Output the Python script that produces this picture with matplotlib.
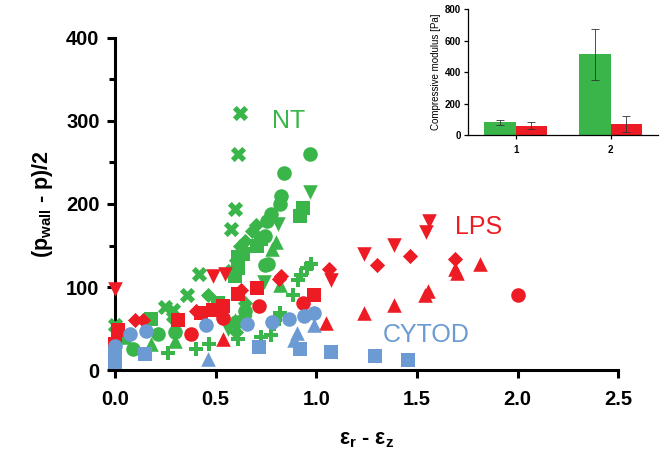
import matplotlib.pyplot as plt

plt.rcParams['font.family'] = ['Liberation Sans', 'DejaVu Sans']
plt.rcParams['mathtext.fontset'] = 'custom'
plt.rcParams['mathtext.rm'] = 'Liberation Sans:bold'
plt.rcParams['mathtext.it'] = 'Liberation Sans:bold'
plt.rcParams['mathtext.bf'] = 'Liberation Sans:bold'
plt.rcParams['mathtext.default'] = 'bf'

GREEN = '#3AB54A'
RED = '#ED1C24'
BLUE = '#6B9BD2'

# NT (green) points, grouped by marker: (strain diff, stress)
nt_x = [(0.62, 310), (0.61, 260), (0.595, 194), (0.578, 170), (0.42, 116), (0.36, 90),
        (0.29, 73), (0.25, 76), (0.0, 54), (0.58, 119), (0.6, 128)]
nt_o = [(0.967, 260), (0.84, 237), (0.826, 210), (0.818, 200), (0.777, 188), (0.744, 162),
        (0.755, 179), (0.76, 128), (0.745, 127), (0.09, 25), (0.215, 44), (0.3, 46),
        (0.645, 71), (0.6, 58)]
nt_v = [(0.97, 214), (0.81, 176), (0.74, 106), (0.645, 58), (0.56, 50)]
nt_s = [(0.934, 195), (0.92, 185), (0.724, 158), (0.636, 140), (0.705, 149), (0.614, 136),
        (0.595, 113), (0.61, 123), (0.18, 62), (0.51, 81)]
nt_d = [(0.70, 175), (0.68, 168), (0.645, 156), (0.62, 149), (0.463, 90), (0.29, 62),
        (0.645, 81), (0.603, 46)]
nt_t = [(0.80, 154), (0.78, 146), (0.82, 103), (0.18, 31), (0.3, 35), (0.595, 60), (0.05, 40)]
nt_p = [(0.975, 128), (0.926, 114), (0.954, 123), (0.912, 108), (0.887, 90), (0.818, 67),
        (0.79, 56), (0.777, 42), (0.727, 40), (0.61, 37), (0.47, 31), (0.405, 25),
        (0.264, 21), (0.82, 69), (0.796, 62)]

# LPS (red)
lps_v = [(0.0, 98), (0.488, 113), (0.545, 116), (1.074, 108), (1.235, 140), (1.384, 151),
         (1.56, 179), (1.545, 166)]
lps_d = [(1.066, 122), (0.826, 113), (0.813, 110), (0.628, 96), (1.30, 126), (1.465, 137),
         (1.689, 134), (0.405, 71), (0.1, 60), (0.14, 60)]
lps_t = [(1.05, 57), (1.235, 69), (1.384, 79), (1.54, 90), (1.553, 95), (1.689, 122),
         (1.70, 117), (1.813, 128), (0.537, 37)]
lps_o = [(2.0, 90), (0.934, 81), (0.714, 77), (0.38, 44), (0.537, 63)]
lps_s = [(0.99, 90), (0.705, 99), (0.61, 92), (0.537, 77), (0.488, 73), (0.43, 69),
         (0.314, 60), (0.017, 48), (0.0, 31)]

# CYTOD (blue)
cyt_o = [(0.0, 29), (0.074, 44), (0.157, 47), (0.455, 54), (0.656, 55), (0.78, 58),
         (0.863, 62), (0.937, 65), (0.987, 69)]
cyt_s = [(0.0, 10), (0.0, 20), (0.149, 19), (0.714, 28), (0.92, 26), (1.073, 22),
         (1.29, 17), (1.457, 12)]
cyt_t = [(0.463, 13), (0.89, 36), (0.904, 45), (0.987, 54)]

# inset bar data
inset_groups = ['1', '2']
nt_modulus = [80, 515]
nt_modulus_err = [18, 162]
lps_modulus = [58, 72]
lps_modulus_err = [22, 50]

fig = plt.figure(figsize=(6.64, 4.61), dpi=100)
ax = fig.add_axes([0.173, 0.197, 0.758, 0.721])

series = [
    (nt_x, 'X', GREEN, 120), (nt_o, 'o', GREEN, 110), (nt_v, 'v', GREEN, 110),
    (nt_s, 's', GREEN, 100), (nt_d, 'D', GREEN, 60), (nt_t, '^', GREEN, 110),
    (nt_p, 'P', GREEN, 110),
    (lps_v, 'v', RED, 110), (lps_d, 'D', RED, 60), (lps_t, '^', RED, 110),
    (lps_o, 'o', RED, 110), (lps_s, 's', RED, 100),
    (cyt_o, 'o', BLUE, 110), (cyt_s, 's', BLUE, 100), (cyt_t, '^', BLUE, 110),
]
for pts, marker, color, size in series:
    xs = [p[0] for p in pts]
    ys = [p[1] for p in pts]
    ax.scatter(xs, ys, marker=marker, s=size, color=color, linewidths=0, clip_on=False, zorder=3)

ax.set_xlim(0, 2.5)
ax.set_ylim(0, 400)
ax.set_xticks([0, 0.5, 1.0, 1.5, 2.0, 2.5])
ax.set_xticklabels(['0.0', '0.5', '1.0', '1.5', '2.0', '2.5'])
ax.set_yticks([0, 100, 200, 300, 400])
ax.set_yticks([50, 150, 250, 350], minor=True)
for s in ['top', 'right']:
    ax.spines[s].set_visible(False)
for s in ['left', 'bottom']:
    ax.spines[s].set_linewidth(2.2)
ax.tick_params(axis='both', which='major', width=2.2, length=6, labelsize=14.5, pad=5)
ax.tick_params(axis='x', which='major', pad=8)
ax.tick_params(axis='y', which='minor', width=2.2, length=4)
for lab in ax.get_xticklabels() + ax.get_yticklabels():
    lab.set_fontweight('bold')

ax.set_ylabel(r'(p$_{wall}$ - p)/2', fontsize=15.5, fontweight='bold', labelpad=8)
ax.set_xlabel(r'$\varepsilon_r$ - $\varepsilon_z$', fontsize=15.5, fontweight='bold', labelpad=15)

ax.text(0.78, 300, 'NT', color=GREEN, fontsize=18, va='center')
ax.text(1.69, 172, 'LPS', color=RED, fontsize=18, va='center')
ax.text(1.33, 42, 'CYTOD', color=BLUE, fontsize=18, va='center')

# inset
ins = fig.add_axes([0.705, 0.707, 0.286, 0.273])
pos = [1, 2]
w = 0.333
ins.bar([p - w / 2 for p in pos], nt_modulus, width=w, color=GREEN, yerr=nt_modulus_err,
        error_kw=dict(elinewidth=0.6, capsize=3, capthick=0.6, ecolor='#333333'))
ins.bar([p + w / 2 for p in pos], lps_modulus, width=w, color=RED, yerr=lps_modulus_err,
        error_kw=dict(elinewidth=0.6, capsize=3, capthick=0.6, ecolor='#333333'))
ins.set_xlim(0.5, 2.5)
ins.set_ylim(0, 800)
ins.set_xticks(pos)
ins.set_xticklabels(inset_groups)
ins.set_yticks([0, 200, 400, 600, 800])
for s in ['top', 'right']:
    ins.spines[s].set_visible(False)
for s in ['left', 'bottom']:
    ins.spines[s].set_linewidth(0.9)
ins.tick_params(axis='both', width=0.9, length=3, labelsize=7, pad=2)
ins.tick_params(axis='x', pad=4)
for lab in ins.get_xticklabels() + ins.get_yticklabels():
    lab.set_fontweight('bold')
ins.set_ylabel('Compressive modulus [Pa]', fontsize=7, labelpad=3)

fig.savefig('out.png', dpi=100)
